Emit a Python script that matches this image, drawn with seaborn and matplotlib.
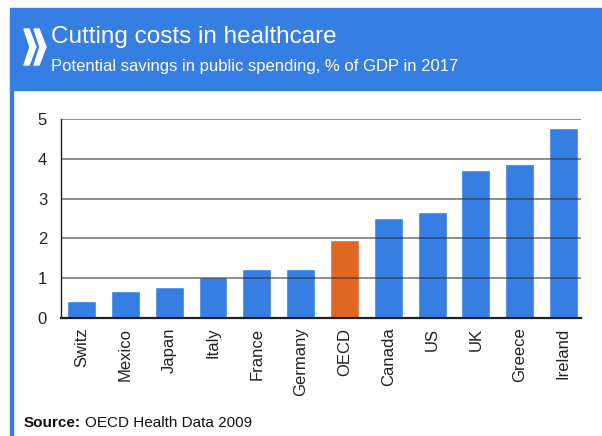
import matplotlib
matplotlib.use("Agg")
import matplotlib.pyplot as plt
from matplotlib.patches import Rectangle, Polygon
import seaborn as sns
import pandas as pd

# Potential savings in public spending, % of GDP (2017)
countries = ["Switz", "Mexico", "Japan", "Italy", "France", "Germany",
             "OECD", "Canada", "US", "UK", "Greece", "Ireland"]
savings = [0.43, 0.68, 0.78, 1.04, 1.24, 1.24, 1.95, 2.50, 2.67, 3.72, 3.87, 4.77]
y_ticks = [0, 1, 2, 3, 4, 5]

BLUE = "#377EE3"
ORANGE = "#E06824"
bar_colors = [ORANGE if c == "OECD" else BLUE for c in countries]

sns.set_theme(style="white")
plt.rcParams["font.family"] = ["Liberation Sans", "DejaVu Sans"]

W, H = 602, 436
fig = plt.figure(figsize=(W / 100, H / 100), dpi=100)


def fx(px):
    return px / W


def fy(py):
    return 1 - py / H


# Axes placed in pixel terms
ax = fig.add_axes([fx(61), fy(318), fx(581) - fx(61), fy(119) - fy(318)])

df = pd.DataFrame({"country": countries, "saving": savings})
sns.barplot(data=df, x="country", y="saving", hue="country",
            palette=bar_colors, legend=False, width=0.66,
            saturation=1, ax=ax, zorder=1)

ax.set_ylim(0, 5)
ax.set_xlim(-0.47, 11.4)
ax.set_yticks(y_ticks)
ax.set_yticklabels([str(t) for t in y_ticks], fontsize=12, color="#222222")
ax.tick_params(axis="y", length=0, pad=10)
ax.tick_params(axis="x", length=0, pad=7, labelsize=12, labelcolor="#222222")
plt.setp(ax.get_xticklabels(), rotation=90)
ax.set_xlabel("")
ax.set_ylabel("")

# Gridlines drawn on top of the bars
for t in y_ticks[1:]:
    ax.axhline(t, color="#333333", alpha=0.55, lw=1.4, zorder=5)

for side in ["top", "right"]:
    ax.spines[side].set_visible(False)
ax.spines["left"].set_color("#222222")
ax.spines["left"].set_linewidth(1.0)
ax.spines["bottom"].set_color("#222222")
ax.spines["bottom"].set_linewidth(1.6)
ax.spines["bottom"].set_zorder(6)

# Header band and side rule
fig.patches.append(Rectangle((fx(10), fy(90)), 1 - fx(10), fy(8) - fy(90),
                             transform=fig.transFigure, color=BLUE, zorder=0))
fig.patches.append(Rectangle((fx(10), 0), fx(2.5), fy(90),
                             transform=fig.transFigure, color=BLUE, zorder=0))

# Double chevron mark
for x0 in (24, 34):
    pts = [(x0, 29), (x0 + 5, 29), (x0 + 12, 47), (x0 + 5, 65), (x0, 65), (x0 + 6, 47)]
    fig.patches.append(Polygon([(fx(px), fy(py)) for px, py in pts],
                               closed=True, transform=fig.transFigure,
                               color="white", zorder=2))

fig.text(fx(51), fy(43), "Cutting costs in healthcare", color="white",
         fontsize=17.5, va="baseline", ha="left")
fig.text(fx(51), fy(71), "Potential savings in public spending, % of GDP in 2017",
         color="white", fontsize=12, va="baseline", ha="left")

# Source line: bold label followed by regular text
src = fig.text(fx(24), fy(427), "Source:", fontsize=11, fontweight="bold",
               color="#111111", va="baseline", ha="left")
fig.canvas.draw()
bb = src.get_window_extent(renderer=fig.canvas.get_renderer())
fig.text(bb.x1 / W + fx(4), fy(427), "OECD Health Data 2009", fontsize=11,
         color="#111111", va="baseline", ha="left")

fig.savefig("out.png", dpi=100)
